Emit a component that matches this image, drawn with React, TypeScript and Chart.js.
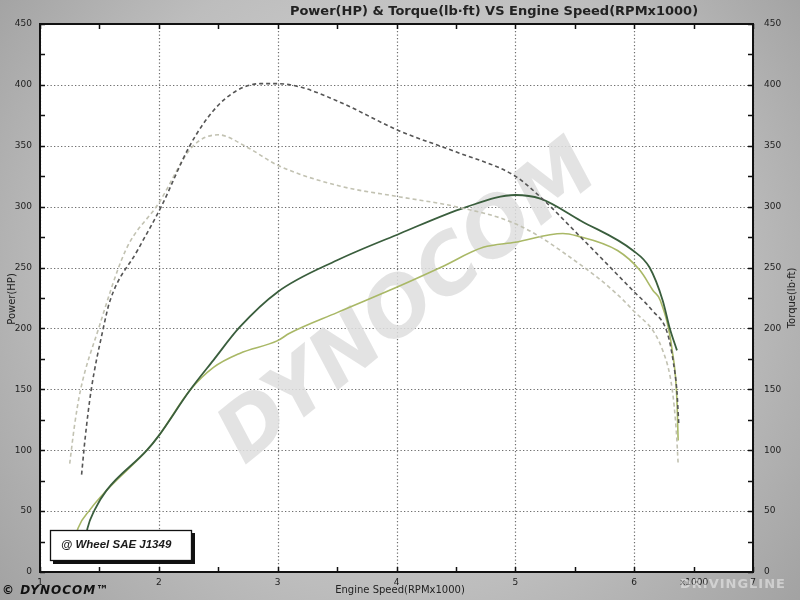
import React, { useEffect, useRef } from 'react';
import { Chart, registerables } from 'chart.js';

Chart.register(...registerables);

// Engine speed (RPM x1000) sample positions and values
const torqueDarkRpm = [1.35, 1.38, 1.43, 1.53, 1.59, 1.82, 2.02, 2.26, 2.46, 2.65, 2.85, 3.0, 3.2, 3.52, 4.03, 4.5, 5.0, 5.21, 5.55, 5.99, 6.15, 6.28, 6.33, 6.36, 6.375];
const torqueDark = [80, 110, 149, 199, 223, 264, 300, 350, 379, 395, 401, 401, 398, 386, 362, 345, 325, 308, 275, 231, 215, 196, 172, 148, 122];

const torqueLightRpm = [1.25, 1.29, 1.34, 1.49, 1.72, 2.0, 2.28, 2.5, 2.74, 3.0, 3.52, 4.03, 4.5, 5.0, 5.38, 5.99, 6.24, 6.32, 6.355, 6.37];
const torqueLight = [89, 120, 149, 199, 264, 303, 349, 359, 349, 334, 317, 308, 300, 286, 264, 215, 182, 150, 115, 89];

const powerDarkRpm = [1.38, 1.40, 1.46, 1.56, 1.9, 2.0, 2.26, 2.46, 2.68, 3.0, 3.5, 4.03, 4.58, 5.0, 5.21, 5.55, 5.99, 6.13, 6.24, 6.3, 6.36];
const powerDark = [25, 36, 51, 67, 100, 112, 149, 174, 201, 230, 256, 278, 299.5, 309.6, 306.6, 288.5, 264, 250, 223, 200, 182];

const powerLightRpm = [1.29, 1.32, 1.42, 1.56, 1.9, 2.0, 2.26, 2.46, 2.68, 3.0, 3.1, 3.5, 4.03, 4.37, 4.73, 5.0, 5.4, 5.52, 5.86, 6.05, 6.16, 6.22, 6.32, 6.36, 6.37];
const powerLight = [25, 36, 51, 67, 100, 112, 149, 168, 179.5, 190, 196, 213, 235, 250, 266.6, 270.8, 278, 276, 264, 247.5, 231, 223, 182, 141, 108];

const xTicks = [1, 2, 3, 4, 5, 6, 7];
const yTicks = [0, 50, 100, 150, 200, 250, 300, 350, 400, 450];

const titleText = 'Power(HP) & Torque(lb\u00b7ft) VS Engine Speed(RPMx1000)';
const leftTitle = 'Power(HP)';
const rightTitle = 'Torque(lb\u00b7ft)';
const xTitle = 'Engine Speed(RPMx1000)';
const boxLabel = '@ Wheel SAE J1349';

const pts = (xs: number[], ys: number[]) => xs.map((x, i) => ({ x, y: ys[i] }));

const decorPlugin = {
  id: 'decor',
  beforeDraw(chart: any) {
    const { ctx, chartArea: a, scales } = chart;
    const W = chart.width, H = chart.height;
    ctx.save();
    const g = ctx.createRadialGradient(400, 230, 40, 400, 300, 560);
    g.addColorStop(0, '#d4d4d4');
    g.addColorStop(0.55, '#bdbdbd');
    g.addColorStop(1, '#9a9a9a');
    ctx.fillStyle = g;
    ctx.fillRect(0, 0, W, H);
    ctx.fillStyle = '#ffffff';
    ctx.fillRect(a.left, a.top, a.right - a.left, a.bottom - a.top);

    // dotted grid
    ctx.strokeStyle = '#6e6e6e';
    ctx.lineWidth = 1.2;
    ctx.setLineDash([1.3, 2.2]);
    const xs = scales.x, ys = scales.y;
    for (const v of xTicks) {
      const px = Math.round(xs.getPixelForValue(v)) + 0.5;
      ctx.beginPath();
      ctx.moveTo(px, a.top);
      ctx.lineTo(px, a.bottom);
      ctx.stroke();
    }
    for (const v of yTicks) {
      const py = Math.round(ys.getPixelForValue(v)) + 0.5;
      ctx.beginPath();
      ctx.moveTo(a.left, py);
      ctx.lineTo(a.right, py);
      ctx.stroke();
    }
    ctx.setLineDash([]);

    // watermark
    ctx.save();
    ctx.beginPath();
    ctx.rect(a.left, a.top, a.right - a.left, a.bottom - a.top);
    ctx.clip();
    ctx.translate(410, 305);
    ctx.rotate(-0.68);
    ctx.font = 'italic bold 80px "DejaVu Sans"';
    ctx.textAlign = 'center';
    ctx.textBaseline = 'middle';
    ctx.fillStyle = 'rgba(222,222,222,0.85)';
    ctx.fillText('DYNOCOM', 0, 0);
    ctx.restore();
    ctx.restore();
  },
  afterDatasetsDraw(chart: any) {
    const { ctx, chartArea: a, scales } = chart;
    const xs = scales.x, ys = scales.y;
    ctx.save();
    // ticks
    ctx.strokeStyle = '#111';
    ctx.lineWidth = 1.5;
    for (let v = 0; v <= 450; v += 25) {
      const py = Math.round(ys.getPixelForValue(v)) + 0.5;
      ctx.beginPath();
      ctx.moveTo(a.left, py); ctx.lineTo(a.left + 5, py);
      ctx.moveTo(a.right, py); ctx.lineTo(a.right - 5, py);
      ctx.stroke();
    }
    for (let v = 1; v <= 7; v += 0.5) {
      const px = Math.round(xs.getPixelForValue(v)) + 0.5;
      ctx.beginPath();
      ctx.moveTo(px, a.top); ctx.lineTo(px, a.top + 5);
      ctx.moveTo(px, a.bottom); ctx.lineTo(px, a.bottom - 5);
      ctx.stroke();
    }
    // frame
    ctx.lineWidth = 2;
    ctx.strokeRect(a.left, a.top, a.right - a.left, a.bottom - a.top);

    // label box with shadow
    ctx.fillStyle = '#111';
    ctx.fillRect(53, 533, 142, 31);
    ctx.fillStyle = '#ffffff';
    ctx.fillRect(50, 530, 142, 31);
    ctx.lineWidth = 1.3;
    ctx.strokeStyle = '#111';
    ctx.strokeRect(50.5, 530.5, 141, 30);
    ctx.fillStyle = '#1a1a1a';
    ctx.font = 'italic bold 11.5px "Liberation Sans"';
    ctx.textAlign = 'left';
    ctx.textBaseline = 'middle';
    ctx.fillText(boxLabel, 61, 545);

    // title
    ctx.font = 'bold 13px "DejaVu Sans"';
    ctx.textAlign = 'center';
    ctx.fillStyle = '#222';
    ctx.fillText(titleText, 494, 12);

    // axis titles
    ctx.font = '10px "DejaVu Sans"';
    ctx.fillStyle = '#222';
    ctx.save();
    ctx.translate(12, 299);
    ctx.rotate(-Math.PI / 2);
    ctx.fillText(leftTitle, 0, 0);
    ctx.restore();
    ctx.save();
    ctx.translate(792, 298);
    ctx.rotate(-Math.PI / 2);
    ctx.fillText(rightTitle, 0, 0);
    ctx.restore();
    ctx.fillText(xTitle, 400, 590);

    // exponent label
    ctx.font = '9px "DejaVu Sans"';
    ctx.fillText('x1000', 694, 583);

    // logo
    ctx.textAlign = 'left';
    ctx.font = 'italic bold 12px "DejaVu Sans"';
    ctx.fillStyle = '#111';
    (ctx as any).letterSpacing = '1px';
    ctx.fillText('\u00a9 DYNOCOM\u2122', 2, 591);

    // site watermark
    ctx.font = 'bold 13px "DejaVu Sans"';
    (ctx as any).letterSpacing = '1px';
    ctx.fillStyle = 'rgba(255,255,255,0.45)';
    ctx.fillText('DRIVINGLINE', 680, 585);
    (ctx as any).letterSpacing = '0px';
    ctx.restore();
  },
};

export default function App() {
  const ref = useRef<HTMLCanvasElement | null>(null);
  useEffect(() => {
    if (!ref.current) return;
    const tickFont = { family: '"DejaVu Sans"', size: 9 };
    const chart = new Chart(ref.current, {
      type: 'line',
      data: {
        datasets: [
          {
            label: 'Torque A',
            data: pts(torqueDarkRpm, torqueDark),
            borderColor: '#555555',
            borderWidth: 1.6,
            borderDash: [4, 3],
            yAxisID: 'y2',
          },
          {
            label: 'Torque B',
            data: pts(torqueLightRpm, torqueLight),
            borderColor: '#c2c2b2',
            borderWidth: 1.6,
            borderDash: [4, 3],
            yAxisID: 'y2',
          },
          {
            label: 'Power A',
            data: pts(powerDarkRpm, powerDark),
            borderColor: '#3a5e3d',
            borderWidth: 1.8,
            yAxisID: 'y',
          },
          {
            label: 'Power B',
            data: pts(powerLightRpm, powerLight),
            borderColor: '#a9b866',
            borderWidth: 1.6,
            yAxisID: 'y',
          },
        ],
      },
      options: {
        animation: false,
        responsive: false,
        maintainAspectRatio: false,
        elements: {
          point: { radius: 0 },
          line: { cubicInterpolationMode: 'monotone', fill: false },
        },
        layout: { padding: { top: 24, left: 0, right: 0, bottom: 0 } },
        plugins: { legend: { display: false }, tooltip: { enabled: false }, title: { display: false } },
        scales: {
          x: {
            type: 'linear',
            min: 1,
            max: 7,
            afterBuildTicks: (s: any) => { s.ticks = xTicks.map((v) => ({ value: v })); },
            afterFit: (s: any) => { s.height = 28; },
            grid: { display: false, drawTicks: false },
            border: { display: false },
            ticks: { font: tickFont, color: '#222', padding: 5, maxRotation: 0 },
          },
          y: {
            type: 'linear',
            position: 'left',
            min: 0,
            max: 450,
            afterBuildTicks: (s: any) => { s.ticks = yTicks.map((v) => ({ value: v })); },
            afterFit: (s: any) => { s.width = 40; },
            grid: { display: false, drawTicks: false },
            border: { display: false },
            ticks: { font: tickFont, color: '#222', padding: 8 },
          },
          y2: {
            type: 'linear',
            position: 'right',
            min: 0,
            max: 450,
            afterBuildTicks: (s: any) => { s.ticks = yTicks.map((v) => ({ value: v })); },
            afterFit: (s: any) => { s.width = 47; },
            grid: { display: false, drawTicks: false },
            border: { display: false },
            ticks: { font: tickFont, color: '#222', padding: 11 },
          },
        },
      },
      plugins: [decorPlugin],
    } as any);
    return () => chart.destroy();
  }, []);
  return (
    <div style={{ position: 'fixed', left: 0, top: 0, width: 800, height: 600 }}>
      <canvas ref={ref} width={800} height={600} style={{ width: 800, height: 600, display: 'block' }} />
    </div>
  );
}
